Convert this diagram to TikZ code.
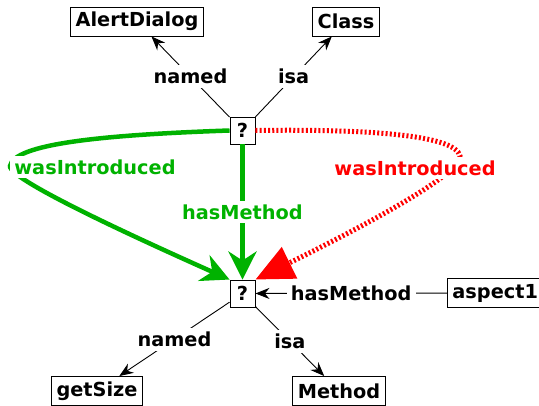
\documentclass[tikz,border=0pt]{standalone}
\usepackage{fontspec}
\setsansfont{DejaVu Sans}
\usetikzlibrary{arrows.meta,positioning}
\definecolor{relgreen}{RGB}{0,178,0}
\definecolor{relred}{RGB}{255,0,0}
\newcommand\relfont{\sffamily\bfseries\fontsize{19.3}{21}\selectfont}

\begin{document}
\begin{tikzpicture}[x=1pt,y=1pt,
	box node/.style={rectangle,draw,fill=white,line width=0.9pt,inner xsep=5pt,inner ysep=0pt,minimum height=29pt,font=\relfont},
	blank node/.style={box node,minimum width=25pt,minimum height=27pt,inner xsep=0pt},
	rel label/.style={fill=white,inner sep=4pt,font=\relfont},
	plain edge/.style={line width=0.9pt,-{Stealth[length=14pt,width=11pt]}},
	green edge/.style={relgreen,line width=4.5pt,-{Stealth[length=28pt,width=28pt,inset=9pt]}},
	red edge/.style={relred,line width=5pt,dash pattern=on 2pt off 2.2pt,-{Triangle[length=38pt,width=34pt]}}]
	\useasboundingbox (0,0) rectangle (539,406);
	\node[box node] (alert) at (137,384.5) {AlertDialog};
	\node[box node] (cls) at (346,384.5) {Class};
	\node[blank node] (q1) at (242.5,275.5) {?};
	\node[blank node] (q2) at (242.5,112.5) {?};
	\node[box node,anchor=west] (aspect) at (447,113) {aspect1};
	\node[box node] (getsize) at (97,15) {getSize};
	\node[box node] (method) at (339,15) {Method};
	\coordinate (gbend) at (10,240);
	\coordinate (rbend) at (460,250);
	% wasIntroduced, both ways round
	\draw[green edge] (q1.west) .. controls (100,271) and (14,262) .. (gbend) .. controls (8,226) and (150,162) .. (q2.north west);
	\draw[red edge] (q1.east) .. controls (360,277) and (455,272) .. (rbend) .. controls (462,230) and (340,168) .. (q2.north east);
	\node[rel label,text=relgreen] (gintro) at (95,239) {wasIntroduced};
	\node[rel label,text=relred] (rintro) at (415,238) {wasIntroduced};
	\draw[green edge] (q1) -- node[rel label,text=relgreen] {hasMethod} (q2);
	\path[every node/.style={rel label}]
	(q1) edge[plain edge] node {named} (alert)
	 edge[plain edge] node {isa} (cls)
	(q2) edge[plain edge] node {named} (getsize)
	 edge[plain edge] node {isa} (method)
	(aspect) edge[plain edge] node {hasMethod} (q2);
\end{tikzpicture}
\end{document}
